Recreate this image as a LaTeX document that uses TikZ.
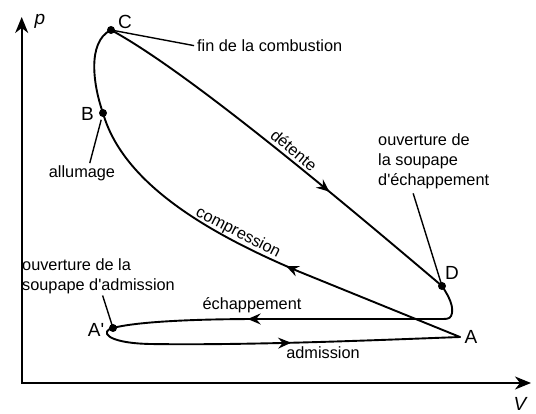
\documentclass[tikz,border=0pt]{standalone}
\usepackage{fontspec}
\setmainfont{Liberation Sans}[Ligatures=TeXOff]
\usetikzlibrary{arrows.meta,decorations.markings}
\begin{document}
\begin{tikzpicture}[x=1pt,y=1pt,
  curve/.style={line width=1.9pt, line join=round, line cap=round},
  ptr/.style={line width=1.4pt},
  lbl/.style={inner sep=0pt, font=\fontsize{16.3}{20}\selectfont},
  ptlbl/.style={inner sep=0pt, font=\fontsize{19}{22}\selectfont},
  axlbl/.style={inner sep=0pt, font=\fontsize{19}{22}\selectfont\itshape},
  dot/.style={circle, fill=black, inner sep=0pt, minimum size=8pt},
  midarrow/.style={postaction={decorate, decoration={markings,
      mark=at position #1 with {\arrow{Stealth[length=13pt,width=11pt,inset=4.5pt]}}}}},
]
\useasboundingbox (0,0) rectangle (536,-414);

% axes
\coordinate (O) at (21.7,-383);
\coordinate (Ytop) at (21.7,-17);
\coordinate (Xend) at (531,-383);
\draw[line width=1.9pt, {Stealth[length=16pt,width=13pt,inset=5pt]}-{Stealth[length=16pt,width=13pt,inset=5pt]}] (Ytop) -- (O) -- (Xend);
\node[axlbl, anchor=base] (pl) at (40,-25) {p};
\node[axlbl, anchor=base] (Vl) at (520,-410) {V};

% points
\coordinate (A) at (460,-337);
\node[dot] (Ap) at (113,-328) {};
\node[dot] (B) at (103,-113) {};
\node[dot] (C) at (111,-30) {};
\node[dot] (D) at (442,-286) {};

% cycle
\draw[curve] (B.center) .. controls (94,-88) and (86,-42) .. (C.center);
\draw[curve, midarrow=272pt] (C.center) .. controls (185,-70) and (330,-191) .. (D.center);
\draw[curve, midarrow=237pt] (D.center) .. controls (450,-298) and (453,-306) .. (452,-313)
   .. controls (451,-318) and (449,-319) .. (443,-319) -- (260,-319)
   .. controls (190,-319) and (135,-322) .. (Ap.center);
\draw[curve, midarrow=196pt] (Ap.center) .. controls (100,-331) and (105,-343) .. (150,-344)
   .. controls (250,-345.5) and (380,-340) .. (A);
\draw[curve, midarrow=188pt] (A) -- (300,-272) .. controls (200,-230) and (122,-180) .. (B.center);

% point labels
\node[ptlbl, anchor=base] (Cl) at (125,-29) {C};
\node[ptlbl, anchor=base] (Bl) at (87.5,-121) {B};
\node[ptlbl, anchor=base] (Dl) at (452,-280) {D};
\node[ptlbl, anchor=base] (Al) at (471,-344) {A};
\node[ptlbl, anchor=base] (Apl) at (96,-337) {A'};

% annotations
\node[lbl, anchor=base west] (fin) at (197,-52) {fin de la combustion};
\node[lbl, anchor=base] (allum) at (82,-178) {allumage};
\node[lbl, anchor=north west, align=left] (ech) at (378,-133) {ouverture de\\la soupape\\d'échappement};
\node[lbl, anchor=north west, align=left] (adm) at (22,-258) {ouverture de la\\soupape d'admission};
\node[lbl, anchor=base] (echl) at (252,-310) {échappement};
\node[lbl, anchor=base] (adml) at (323,-359) {admission};
\node[lbl, rotate=-40] (det) at (294,-150) {détente};
\node[lbl, rotate=-27] (comp) at (238,-233) {compression};

% pointers
\draw[ptr, shorten >=3pt] (C.center) -- (fin.west);
\draw[ptr, shorten <=7pt, shorten >=3pt] (B.center) -- ([xshift=7pt]allum.north);
\draw[ptr, shorten <=5pt] ([xshift=-22pt]ech.south) -- (D.center);
\draw[ptr, shorten <=2pt] ([xshift=80pt]adm.south west) -- (Ap.center);
\end{tikzpicture}
\end{document}
